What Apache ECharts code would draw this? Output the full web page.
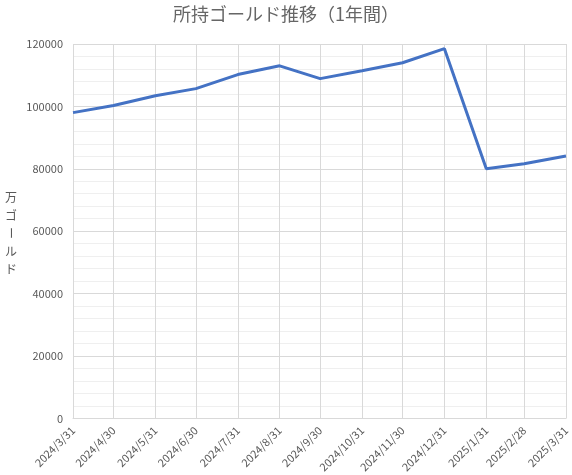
<!DOCTYPE html>
<html>
<head>
<meta charset="utf-8">
<script src="https://cdn.jsdelivr.net/npm/echarts@6/dist/echarts.min.js"></script>
<style>
  html, body { margin: 0; padding: 0; background: #fff; }
  #chart { width: 572px; height: 475px; }
</style>
</head>
<body>
<div id="chart"></div>
<script>
// 月末の日付（横軸の目盛りにもなる）
const dates = ['2024/3/31', '2024/4/30', '2024/5/31', '2024/6/30', '2024/7/31', '2024/8/31',
  '2024/9/30', '2024/10/31', '2024/11/30', '2024/12/31', '2025/1/31', '2025/2/28', '2025/3/31'];
// 所持ゴールド（万）
const gold = [98000, 100300, 103400, 105700, 110200, 113000,
  108900, 111400, 114000, 118500, 80000, 81600, 84100];
const yTicks = [0, 20000, 40000, 60000, 80000, 100000, 120000];
const yName = ['万', 'ゴ', 'ー', 'ル', 'ド'];

const FONT = '"Noto Sans CJK JP", "Noto Sans", sans-serif';
const GRAY = '#595959';
const DAY = 86400000;

function toUTC(s) {
  const [y, m, d] = s.split('/').map(Number);
  return Date.UTC(y, m - 1, d);
}
// 日付軸の代わりに、最初の日からの日数で横軸を作る
const start = toUTC(dates[0]);
const dayOf = s => Math.round((toUTC(s) - start) / DAY);
const tickDays = dates.map(dayOf);
const labelOf = {};
dates.forEach((d, i) => { labelOf[tickDays[i]] = d; });

// 縦書きの軸名（ー は90度回す）
const nameChars = yName.map((c, i) => ({
  type: 'text',
  x: 11, y: 197 + i * 18,
  rotation: c === 'ー' ? -Math.PI / 2 : 0,
  style: {
    text: c, fill: GRAY, font: '12px ' + FONT,
    align: 'center', verticalAlign: 'middle'
  }
}));

const chart = echarts.init(document.getElementById('chart'));
chart.setOption({
  backgroundColor: '#fff',
  animation: false,
  title: {
    text: '所持ゴールド推移（1年間）',
    left: 'center', top: 0,
    textStyle: { color: '#666', fontSize: 18, fontWeight: 'normal', fontFamily: FONT }
  },
  grid: { left: 73, right: 5, top: 44, bottom: 56 },
  xAxis: {
    type: 'value',
    min: tickDays[0],
    max: tickDays[tickDays.length - 1],
    axisLine: { show: true, onZero: false, lineStyle: { color: '#d9d9d9' } },
    axisTick: { show: false, customValues: tickDays },
    axisLabel: {
      customValues: tickDays,
      formatter: v => labelOf[Math.round(v)] || '',
      rotate: 45,
      color: GRAY, fontSize: 11, fontFamily: FONT,
      margin: 10
    },
    splitLine: { show: true, lineStyle: { color: '#d9d9d9' } }
  },
  yAxis: {
    type: 'value',
    min: yTicks[0],
    max: yTicks[yTicks.length - 1],
    interval: 20000,
    axisLine: { show: false },
    axisTick: { show: false },
    axisLabel: { color: GRAY, fontSize: 11, fontFamily: FONT, margin: 10, formatter: v => String(v) },
    splitLine: { lineStyle: { color: '#d9d9d9' } },
    minorTick: { show: false, splitNumber: 5 },
    minorSplitLine: { show: true, lineStyle: { color: '#efefef' } }
  },
  graphic: nameChars,
  series: [{
    type: 'line',
    data: dates.map((d, i) => [dayOf(d), gold[i]]),
    symbol: 'none',
    lineStyle: { color: '#4472C4', width: 3 },
    itemStyle: { color: '#4472C4' }
  }]
});
</script>
</body>
</html>
